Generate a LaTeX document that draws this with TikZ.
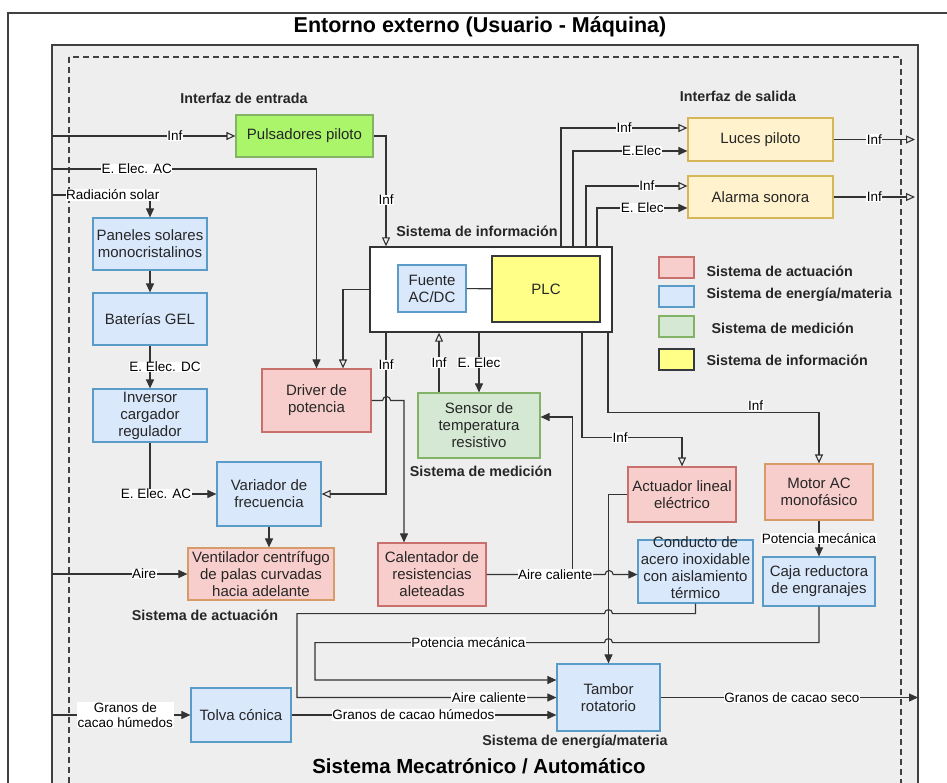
\documentclass[tikz,border=0pt]{standalone}
\usepackage{fontspec}
\setmainfont{Liberation Sans}
\usepackage{tikz}
\usetikzlibrary{arrows.meta}
\usetikzlibrary{calc}
\pgfdeclarelayer{bg}
\pgfsetlayers{bg,main}
\definecolor{fondo}{HTML}{EEEEEE}
\definecolor{marco}{HTML}{404040}
\definecolor{linea}{HTML}{333333}
\definecolor{azulF}{HTML}{DAE8FC}
\definecolor{azulL}{HTML}{5B9BC8}
\definecolor{rojoF}{HTML}{F8CECC}
\definecolor{rojoL}{HTML}{C8706C}
\definecolor{naranL}{HTML}{D79B6A}
\definecolor{verdeF}{HTML}{D5E8D4}
\definecolor{verdeL}{HTML}{82B366}
\definecolor{limaF}{HTML}{ABF56A}
\definecolor{amarF}{HTML}{FFFF88}
\definecolor{amarL}{HTML}{36393D}
\definecolor{cremaF}{HTML}{FFF2CC}
\definecolor{cremaL}{HTML}{D6B656}

\begin{document}
\begin{tikzpicture}[x=1pt, y=-1pt,
  bloque/.style={draw, align=center, line width=1.2pt, inner sep=1pt, text=black!85, font=\fontsize{15}{17}\selectfont},
  energia/.style={bloque, fill=azulF, draw=azulL},
  actuac/.style={bloque, fill=rojoF, draw=rojoL},
  actuacN/.style={bloque, fill=rojoF, draw=naranL},
  medic/.style={bloque, fill=verdeF, draw=verdeL},
  inform/.style={bloque, fill=amarF, draw=amarL},
  pulso/.style={bloque, fill=limaF, draw=verdeL},
  interf/.style={bloque, fill=cremaF, draw=cremaL},
  etq/.style={fill=white, inner sep=0.5pt, text=black, font=\fontsize{13.5}{15}\selectfont},
  seccion/.style={font=\bfseries\fontsize{14.3}{16}\selectfont, text=black!85},
  titulo/.style={font=\bfseries\fontsize{20.4}{24}\selectfont},
  flujo/.style={draw=linea, line width=1.1pt, -{Triangle[length=9pt, width=8pt]}},
  senal/.style={draw=linea, line width=1.1pt, -{Triangle[open, length=9pt, width=8pt]}}]
\clip (0,0) rectangle (947,783);
\begin{pgfonlayer}{bg}
  \draw[line width=1.5pt, draw=marco] (8,13) rectangle (960,800); %entorno
  \draw[line width=1.5pt, draw=marco, fill=fondo] (52,45) rectangle (918,800); %sistema
  \draw[line width=1.5pt, draw=marco, dash pattern=on 6pt off 4pt] (69,57) rectangle (901,800); %limite
\end{pgfonlayer}
\coordinate (entI) at (52,0);
\coordinate (salI) at (915,0);
\coordinate (salF) at (918,0);
\coordinate (acin) at (52,169);
\coordinate (solin) at (52,195);

\node[titulo, font=\bfseries\fontsize{21.5}{24}\selectfont] (tentorno) at (480,27) {Entorno externo (Usuario - Máquina)};
\node[titulo] (tsistema) at (479,766) {Sistema Mecatrónico / Automático};
\node[seccion] (tentrada) at (244,98) {Interfaz de entrada};
\node[seccion] (tsalida) at (738,96) {Interfaz de salida};
\node[seccion] (tinfo) at (477,231) {Sistema de información};
\node[seccion] (tmedic) at (481,471) {Sistema de medición};
\node[seccion] (tactuac) at (205,615) {Sistema de actuación};
\node[seccion] (tenergia) at (575,742) {Sistema de energía/materia};

\node[pulso, minimum width=137pt, minimum height=42pt] (pulsa) at (304.5,136) {Pulsadores piloto}; %entrada
\node[interf, minimum width=145pt, minimum height=43pt] (luces) at (760.5,139.5) {Luces piloto}; %salida
\node[interf, minimum width=145pt, minimum height=42pt] (alarma) at (760.5,197) {Alarma sonora}; %salida
\node[energia, minimum width=114pt, minimum height=52pt] (panel) at (150,244) {Paneles solares\\monocristalinos}; %energia
\node[energia, minimum width=114pt, minimum height=52pt] (bater) at (150,319) {Baterías GEL}; %energia
\node[energia, minimum width=114pt, minimum height=53pt] (inver) at (150,415.5) {Inversor\\cargador\\regulador}; %energia
\node[energia, minimum width=104pt, minimum height=64pt] (varia) at (269,494) {Variador de\\frecuencia}; %energia
\node[actuacN, minimum width=146pt, minimum height=52pt] (venti) at (261,574) {Ventilador centrífugo\\de palas curvadas\\hacia adelante}; %actuacion
\node[energia, minimum width=100pt, minimum height=54pt] (tolva) at (241,715) {Tolva cónica}; %materia
\node[energia, minimum width=103pt, minimum height=67pt] (tambor) at (608.5,697.5) {Tambor\\rotatorio}; %materia
\node[actuac, minimum width=108pt, minimum height=63pt] (calen) at (432,574.5) {Calentador de\\resistencias\\aleteadas}; %actuacion
\node[energia, minimum width=115pt, minimum height=63pt] (condu) at (695.5,571.5) {}; %materia
\node[bloque, draw=none] (conduT) at (695.5,568) {Conducto de\\acero inoxidable\\con aislamiento\\térmico};
\node[energia, minimum width=112pt, minimum height=49pt] (caja) at (819,581.5) {Caja reductora\\de engranajes}; %energia
\node[actuacN, minimum width=108pt, minimum height=56pt] (motor) at (819,492) {Motor AC\\monofásico}; %actuacion
\node[actuac, minimum width=108pt, minimum height=55pt] (actua) at (682,494.5) {Actuador lineal\\eléctrico}; %actuacion
\node[medic, minimum width=122pt, minimum height=65pt] (sensor) at (479,425.5) {Sensor de\\temperatura\\resistivo}; %medicion
\node[actuac, minimum width=109pt, minimum height=63pt] (driver) at (316.5,400.5) {Driver de\\potencia}; %actuacion
\node[draw=linea, fill=white, line width=1.3pt, minimum width=242pt, minimum height=85pt] (info) at (491,289.5) {}; %informacion
\node[energia, minimum width=68pt, minimum height=47pt] (fuente) at (432,288.5) {Fuente\\AC/DC}; %informacion
\node[inform, minimum width=108pt, minimum height=66pt] (plc) at (546,289) {PLC}; %informacion

\node[actuac, minimum width=35pt, minimum height=21pt] (leyA) at (676.5,267.5) {};
\node[seccion, anchor=west] (leyAt) at (703,271) {Sistema de actuación};
\node[energia, minimum width=35pt, minimum height=21pt] (leyE) at (676.5,296.5) {};
\node[seccion, anchor=west] (leyEt) at (703,295) {Sistema de energía/materia};
\node[medic, minimum width=35pt, minimum height=21pt] (leyM) at (676.5,326.5) {};
\node[seccion, anchor=west] (leyMt) at (708,328) {Sistema de medición};
\node[inform, minimum width=35pt, minimum height=21pt] (leyI) at (676.5,359.5) {};
\node[seccion, anchor=west] (leyIt) at (703,360) {Sistema de información};

% entradas
\draw[senal] (entI |- pulsa.west) -- node[etq, pos=0.67]{Inf} (pulsa.west);
\draw[flujo] (acin) -| node[etq, pos=0.16]{E. Elec. AC} (driver.north);
\draw[flujo] (solin) -| node[etq, pos=0.31]{Radiación solar} (panel.north);
\draw[flujo] (entI |- venti.west) -- node[etq, pos=0.68]{Aire} (venti.west);
\draw[flujo] (entI |- tolva.west) -- node[etq, pos=0.53, align=center]{Granos de\\cacao húmedos} (tolva.west);

% energia
\draw[flujo] (panel) -- (bater);
\draw[flujo] (bater) -- node[etq, xshift=15pt]{E. Elec. DC} (inver);
\draw[flujo] (inver.south) |- node[etq, pos=0.5, xshift=6pt]{E. Elec. AC} (varia.west);
\draw[flujo] (varia.south) -- (varia.south |- venti.north);
\draw[draw=linea, line width=1.1pt] (fuente) -- (plc);

% informacion
\draw[senal] (pulsa.east) -| node[etq, pos=0.79]{Inf} ([xshift=-105pt]info.north);
\draw[senal] (info.west) -| ([xshift=26.5pt]driver.north);
\draw[senal] ([xshift=-105pt]info.south) |- node[etq, pos=0.1]{Inf} (varia.east);
\draw[flujo] (driver.east) -- ++(11pt,0) arc[start angle=180, end angle=0, radius=4pt] -| ([xshift=-28pt]calen.north);
\draw[senal] ([xshift=-40pt]sensor.north) -- node[etq]{Inf} ([xshift=-40pt]sensor.north |- info.south);
\draw[flujo] (sensor.north |- info.south) -- node[etq]{E. Elec} (sensor.north);
\draw[senal] ([xshift=91pt]info.south) -- ++(0,105) -| node[etq, pos=0.19]{Inf} (actua.north);
\draw[senal] ([xshift=117pt]info.south) -- ++(0,80) -| node[etq, pos=0.35, yshift=7pt]{Inf} (motor.north);

% salidas
\draw[senal] ([xshift=70pt]info.north) |- node[etq, pos=0.75]{Inf} ([yshift=11.5pt]luces.west);
\draw[flujo] ([xshift=82pt]info.north) |- node[etq, pos=0.8]{E.Elec} ([yshift=-11.5pt]luces.west);
\draw[senal] ([xshift=95pt]info.north) |- node[etq, pos=0.8]{Inf} ([yshift=11pt]alarma.west);
\draw[flujo] ([xshift=106pt]info.north) |- node[etq, pos=0.75]{E. Elec} ([yshift=-11pt]alarma.west);
\draw[senal] (luces.east) -- node[etq]{Inf} (luces.east -| salI);
\draw[senal] (alarma.east) -- node[etq]{Inf} (alarma.east -| salI);

% materia
\draw[flujo] (motor) -- node[etq]{Potencia mecánica} (caja);
\draw[flujo] ([xshift=86pt]calen.east) |- ([yshift=8.5pt]sensor.east);
\draw[flujo] (calen.east) -- node[etq, pos=0.58]{Aire caliente} ++(118.5pt,0) arc[start angle=180, end angle=0, radius=4pt] -- (condu.west |- calen.east);
\draw[flujo] (actua.west) -| (tambor.north);
\draw[flujo] (caja.south) -- ++(0,36) -- ++(-206.5pt,0) arc[start angle=0, end angle=180, radius=4pt] -- node[etq, pos=0.47]{Potencia mecánica} ++(-289.5pt,0) |- ([yshift=17.5pt]tambor.west);
\draw[flujo] (condu.south) -- ++(0,10) -- ++(-83pt,0) arc[start angle=0, end angle=180, radius=4pt] -- ++(-307.5pt,0) |- node[etq, pos=0.87]{Aire caliente} (tambor.west);
\draw[flujo] (tolva.east) -- node[etq, pos=0.46]{Granos de cacao húmedos} (tolva.east -| tambor.west);
\draw[flujo] (tambor.east) -- node[etq, pos=0.51]{Granos de cacao seco} (tambor.east -| salF);
\end{tikzpicture}
\end{document}
